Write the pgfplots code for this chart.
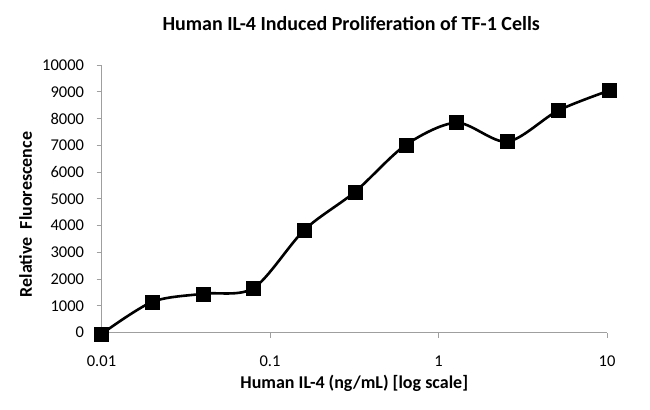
\documentclass[border=0pt]{standalone}
\usepackage{fontspec}
\setmainfont{Carlito}
\usepackage{pgfplots}
\pgfplotsset{compat=1.18}

\begin{document}
\begin{tikzpicture}
\useasboundingbox (0,0) rectangle (650bp,410bp);
\begin{axis}[
    at={(101.5bp,77.3bp)}, anchor=south west,
    scale only axis,
    width=505.5bp, height=267.7bp,
    xmode=log,
    xmin=0.01, xmax=10,
    ymin=0, ymax=10000,
    xtick={0.01,0.1,1,10},
    xticklabels={0.01,0.1,1,10},
    ytick={0,1000,...,10000},
    scaled y ticks=false,
    yticklabel={\pgfmathprintnumber[fixed,precision=0]{\tick}},
    xminorticks=false,
    axis x line=bottom, axis y line=left,
    axis line style={-, draw=gray!75, line width=0.9bp},
    tick align=outside,
    major tick length=5bp,
    tick style={draw=gray!75, line width=0.9bp},
    /pgf/number format/assume math mode=true,
    /pgf/number format/1000 sep={},
    ticklabel style={font=\fontsize{16.5bp}{18bp}\selectfont, inner sep=0pt, outer sep=0pt},
    yticklabel style={anchor=east},
    yticklabel shift=12.5bp,
    xticklabel style={anchor=base, yshift=-28.8bp},
    title={Human IL-4 Induced Proliferation of TF-1 Cells},
    title style={at={(axis description cs:0.494,1.105)}, anchor=base,
        font=\fontsize{20bp}{22bp}\selectfont\bfseries},
    xlabel={Human IL-4 (ng/mL) [log scale]},
    xlabel style={at={(axis description cs:0.5,-0.2066)}, anchor=base,
        font=\fontsize{18bp}{20bp}\selectfont\bfseries},
    ylabel={Relative\ \ Fluorescence},
    ylabel style={at={(axis description cs:-0.1375,0.4415)}, anchor=base, rotate=0,
        font=\fontsize{18bp}{20bp}\selectfont\bfseries},
    clip=false,
]
\addplot[black, line width=2.6bp, smooth, tension=0.5,
    mark=square*, mark size=7bp, mark options={solid, line width=0.4bp}]
    coordinates {
    (0.01,-50)
    (0.02,1150)
    (0.04,1455)
    (0.08,1670)
    (0.16,3840)
    (0.32,5265)
    (0.64,7015)
    (1.28,7845)
    (2.56,7135)
    (5.12,8295)
    (10.24,9040)
    };
\end{axis}
\end{tikzpicture}
\end{document}
